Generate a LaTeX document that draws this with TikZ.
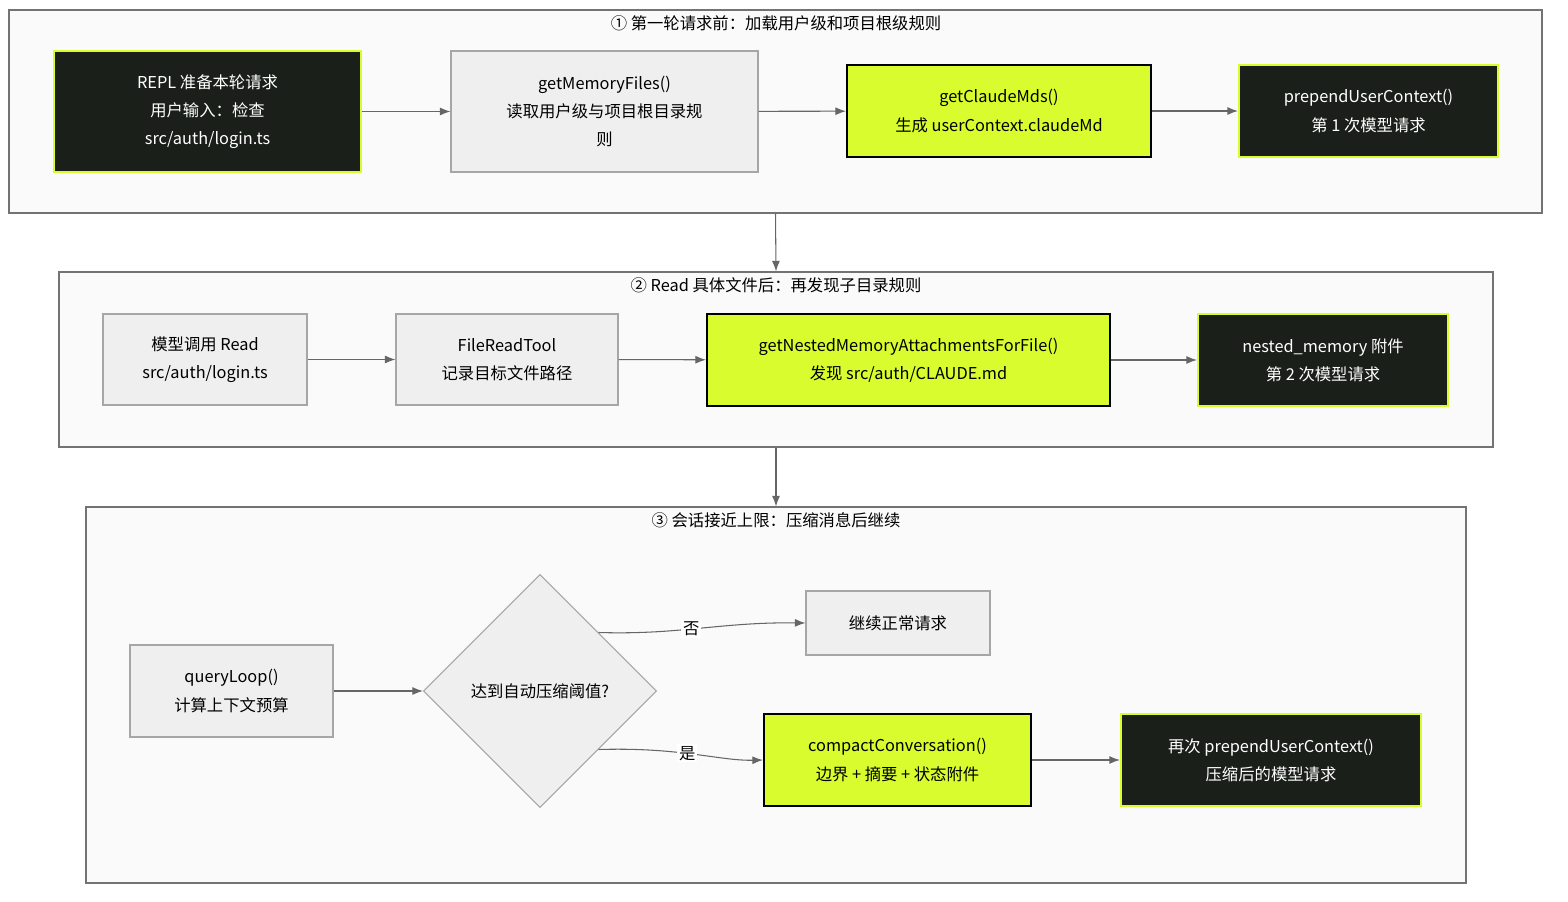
\documentclass[tikz,border=0pt]{standalone}
\usepackage{fontspec}
\setmainfont{Noto Sans CJK SC}
\usetikzlibrary{arrows.meta,shapes.geometric}
\definecolor{lime}{HTML}{D8FC2E}
\definecolor{ink}{HTML}{1A1F1A}
\definecolor{boxgray}{HTML}{EFEFEF}
\definecolor{line}{HTML}{666666}
\tikzset{
  every node/.style={font=\fontsize{9.3}{16}\selectfont, align=center, inner sep=0pt},
  sz/.style 2 args={minimum width={#1*0.02cm}, minimum height={#2*0.02cm}},
  cluster/.style={draw=black!55, fill=black!2, line width=0.6pt},
  plain/.style={draw=black!35, fill=boxgray, line width=0.6pt},
  hot/.style={draw=black, fill=lime, line width=1.2pt},
  dark/.style={draw=lime, fill=ink, text=white, line width=1.2pt},
  flow/.style={draw=line, line width=0.6pt, -{Latex[length=6pt,width=4.5pt]}}
}
\begin{document}
\begin{tikzpicture}[x=0.02cm, y=-0.02cm]
  \useasboundingbox (0,0) rectangle (1568,902);
  % stage 1
  \node[cluster, sz={1533}{203}] (stageA) at (775.5,111.5) {};
  \node (titleA) at (776,23) {① 第一轮请求前：加载用户级和项目根级规则};
  \node[dark, sz={307}{121}] (repl) at (207.5,111.5) {REPL 准备本轮请求\\用户输入：检查\\src/auth/login.ts};
  \node[plain, sz={307}{121}] (memfiles) at (604.5,111.5) {getMemoryFiles()\\读取用户级与项目根目录规\\则};
  \node[hot, sz={304}{92}] (claudemds) at (999,111) {getClaudeMds()\\生成 userContext.claudeMd};
  \node[dark, sz={259}{92}] (prepend) at (1368.5,111) {prependUserContext()\\第 1 次模型请求};
  \draw[flow] (repl) -- (memfiles);
  \draw[flow] (memfiles) -- (claudemds);
  \draw[flow] (claudemds) -- (prepend);
  % stage 2
  \node[cluster, sz={1434}{175}] (stageB) at (776,359.5) {};
  \node (titleB) at (776,285) {② Read 具体文件后：再发现子目录规则};
  \node[plain, sz={204}{91}] (callread) at (205,359.5) {模型调用 Read\\src/auth/login.ts};
  \node[plain, sz={222}{91}] (fileread) at (507,359.5) {FileReadTool\\记录目标文件路径};
  \node[hot, sz={403}{92}] (nested) at (908.5,360) {getNestedMemoryAttachmentsForFile()\\发现 src/auth/CLAUDE.md};
  \node[dark, sz={250}{92}] (attach) at (1323,360) {nested\_memory 附件\\第 2 次模型请求};
  \draw[flow] (callread) -- (fileread);
  \draw[flow] (fileread) -- (nested);
  \draw[flow] (nested) -- (attach);
  % stage 3
  \node[cluster, sz={1380}{376}] (stageC) at (776,695) {};
  \node (titleC) at (776,520) {③ 会话接近上限：压缩消息后继续};
  \node[plain, sz={203}{92}] (query) at (231.5,691) {queryLoop()\\计算上下文预算};
  \node[plain, diamond, aspect=1, sz={233}{233}] (check) at (540,691) {达到自动压缩阈值?};
  \node[plain, sz={184}{64}] (normal) at (898,623) {继续正常请求};
  \node[hot, sz={267}{92}] (compact) at (897.5,760) {compactConversation()\\边界 + 摘要 + 状态附件};
  \node[dark, sz={300}{92}] (again) at (1271,760) {再次 prependUserContext()\\压缩后的模型请求};
  \draw[flow] (query) -- (check);
  \draw[flow] (check.north east) .. controls (680,635) and (720,622) .. node[pos=0.45, fill=white, inner sep=1pt] {否} (normal.west);
  \draw[flow] (check.south east) .. controls (680,747) and (720,761) .. node[pos=0.45, fill=white, inner sep=1pt] {是} (compact.west);
  \draw[flow] (compact) -- (again);
  % between stages
  \draw[flow] (stageA.south) -- (stageB.north);
  \draw[flow] (stageB.south) -- (stageC.north);
\end{tikzpicture}
\end{document}
